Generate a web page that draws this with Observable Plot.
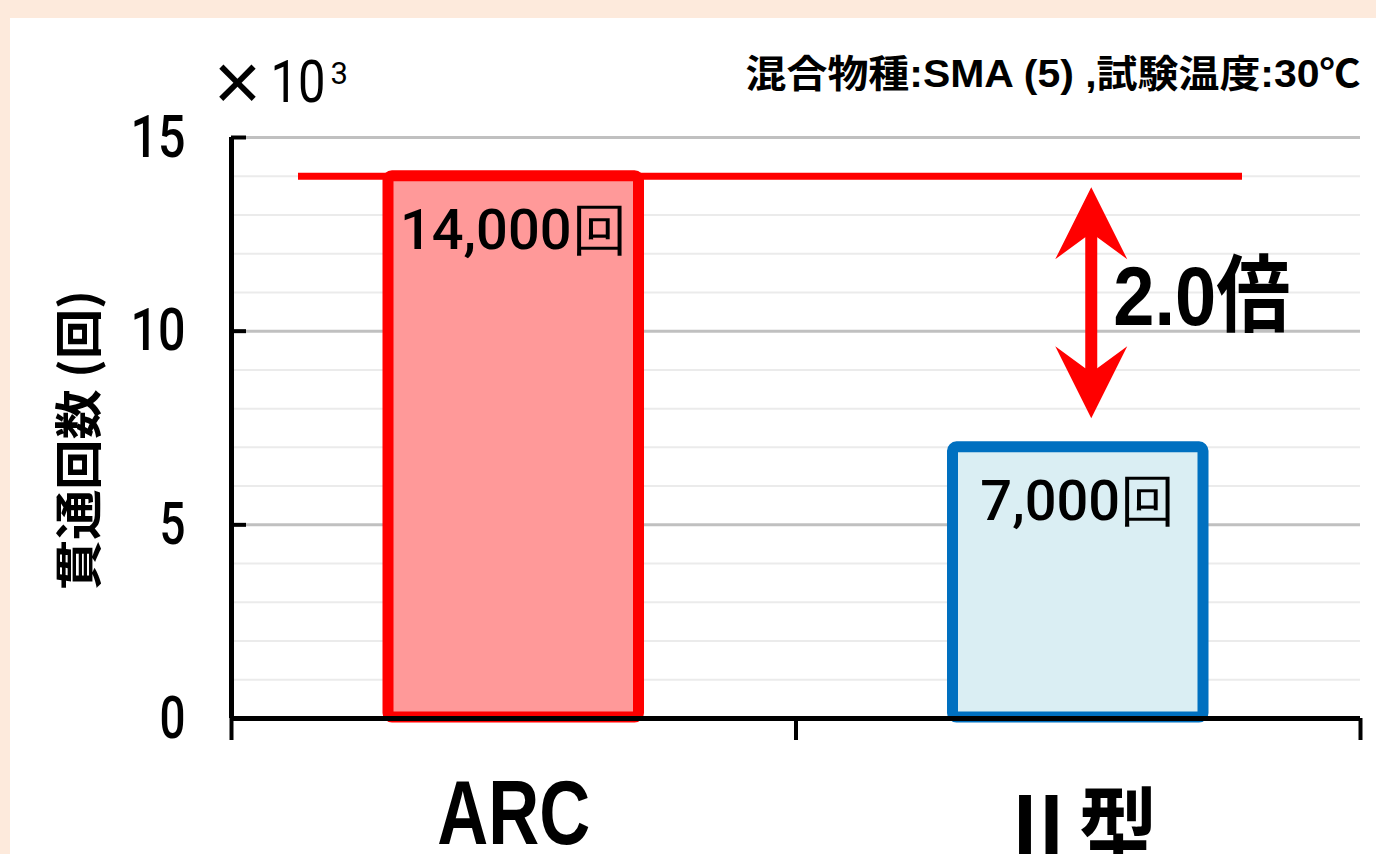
<!DOCTYPE html>
<html><head><meta charset="utf-8">
<script src="https://cdn.jsdelivr.net/npm/d3@7"></script>
<script src="https://cdn.jsdelivr.net/npm/@observablehq/plot@0.6"></script>
<style>
html,body{margin:0;padding:0;width:1376px;height:854px;overflow:hidden;background:#fdeadc;}
#panel{position:absolute;left:10px;top:18px;width:1366px;height:836px;background:#fff;}
#chart{position:absolute;left:0;top:0;}
</style></head><body><div id="panel"></div><div id="chart"></div>
<script>
// ---- data ----
const categories = ["ARC", "Ⅱ型"];
const counts = [14000, 7000];
const countLabels = ["14,000回", "7,000回"];
const yMajorTicks = [0, 5, 10, 15];
const yMinorTicks = [1, 2, 3, 4, 6, 7, 8, 9, 11, 12, 13, 14];
const titleText = "混合物種:SMA (5) ,試験温度:30℃";
const yLabelText = "貫通回数 (回)";
const unitTimes = "×";
const unitBase = "10";
const unitExp = "3";

// ---- styles ----
const barStroke = {"ARC": "#ff0000", "Ⅱ型": "#0070c0"};
const barFill = {"ARC": "#ff9999", "Ⅱ型": "#daeef3"};
const RED = "#ff0000";
const W = 1376, H = 854;
const M = {top: 137, right: 16, bottom: 136, left: 231};
const NUM_FONT = "Roboto, 'Liberation Sans', sans-serif";

const data = categories.map((c, i) => ({cat: c, i, v: counts[i] / 1000, label: countLabels[i]}));
const ratioText = (counts[0] / counts[1]).toFixed(1) + "倍";
const boundaries = categories.map((_, i) => i).concat([categories.length]);

const arrowHead = {
  draw(ctx) {
    ctx.moveTo(0, 0);
    ctx.lineTo(36, 72);
    ctx.lineTo(6, 50);
    ctx.lineTo(-6, 50);
    ctx.lineTo(-36, 72);
    ctx.closePath();
  }
};

const cx = d => d.i + 0.5;
const hiBar = data[0], loBar = data[1];

const chart = Plot.plot({
  width: W, height: H,
  marginTop: M.top, marginRight: M.right, marginBottom: M.bottom, marginLeft: M.left,
  style: {background: "transparent", overflow: "visible", fontFamily: "'Liberation Sans', 'Noto Sans CJK JP', sans-serif", color: "#000"},
  x: {domain: [0, categories.length]},
  y: {domain: [0, 15], axis: null},
  marks: [
    Plot.ruleY(yMinorTicks, {stroke: "#ebebeb", strokeWidth: 2}),
    Plot.ruleY(yMajorTicks.filter(d => d > 0), {stroke: "#c0c0c0", strokeWidth: 3}),
    Plot.rect(data, {x1: "i", x2: d => d.i + 1, y1: 0, y2: "v",
      fill: d => barFill[d.cat], stroke: d => barStroke[d.cat], strokeWidth: 11,
      insetLeft: 157, insetRight: 157, insetBottom: 1, rx: 4}),
    Plot.ruleY([hiBar.v], {stroke: RED, strokeWidth: 7, insetLeft: 67, insetRight: 118}),
    // double arrow
    Plot.ruleX([loBar], {x: cx, y1: () => hiBar.v, y2: "v", dx: 13, insetTop: 50, insetBottom: 60, stroke: RED, strokeWidth: 12}),
    Plot.dot([loBar], {x: cx, y: () => hiBar.v, dx: 13, dy: 11, r: 10, symbol: arrowHead, fill: RED, stroke: "none"}),
    Plot.dot([loBar], {x: cx, y: "v", dx: 13, dy: -29, r: 10, rotate: 180, symbol: arrowHead, fill: RED, stroke: "none"}),
    Plot.text([loBar], {x: cx, y: () => (hiBar.v + loBar.v) / 2, text: () => ratioText, textAnchor: "start", lineAnchor: "middle", dx: 35, dy: -14, fontSize: 84, fontWeight: "bold"}),
    // bar value labels
    Plot.text(data, {x: cx, y: "v", text: "label", lineAnchor: "middle", dy: 55, fontSize: 56, fontWeight: 500, fontFamily: NUM_FONT}),
    // axes
    Plot.ruleX([0], {stroke: "#000", strokeWidth: 5}),
    Plot.ruleY([0], {stroke: "#000", strokeWidth: 5}),
    Plot.ruleY(yMajorTicks.filter(d => d > 0), {stroke: "#000", strokeWidth: 4, insetRight: W - M.left - M.right - 15}),
    Plot.axisX({ticks: boundaries, tickSize: 22, tickFormat: () => "", strokeWidth: 4, label: null}),
    Plot.text(yMajorTicks, {y: d => d, frameAnchor: "left", textAnchor: "end", lineAnchor: "middle", dx: -46, text: d => String(d), fontSize: 60, fontWeight: 500, fontFamily: NUM_FONT}),
    // category labels
    Plot.text([data[0]], {x: cx, frameAnchor: "bottom", lineAnchor: "middle", dy: 97, text: "cat", fontSize: 90, fontWeight: "bold"}),
    Plot.text([data[1]], {x: cx, frameAnchor: "bottom", lineAnchor: "middle", dy: 115, text: "cat", fontSize: 90, fontWeight: "bold", fontFamily: "'Noto Sans CJK JP', sans-serif"}),
    // annotations
    Plot.text([titleText], {frameAnchor: "top-right", textAnchor: "end", lineAnchor: "middle", dy: -63, text: d => d, fontSize: 38, fontWeight: "bold"}),
    Plot.text([unitTimes], {frameAnchor: "top-left", textAnchor: "middle", lineAnchor: "middle", dx: 6, dy: -54, text: d => d, fontSize: 82}),
    Plot.text([unitBase], {frameAnchor: "top-left", textAnchor: "start", lineAnchor: "middle", dx: 39, dy: -55, text: d => d, fontSize: 60, fontFamily: NUM_FONT}),
    Plot.text([unitExp], {frameAnchor: "top-left", textAnchor: "start", lineAnchor: "middle", dx: 99, dy: -63, text: d => d, fontSize: 31, fontFamily: NUM_FONT}),
    Plot.text([yLabelText], {frameAnchor: "left", rotate: -90, textAnchor: "start", lineAnchor: "middle", dx: -151, dy: 162, text: d => d, fontSize: 48, fontWeight: "bold", fontFamily: "'Noto Sans CJK JP', sans-serif"})
  ]
});

const lengths = new Map([[titleText, 615], [yLabelText, 300], ["ARC", 153], ["Ⅱ型", 160], [ratioText, 177], ["15", 55], ["10", 55], ["5", 26], ["0", 26]]);
d3.select(chart).selectAll("text").each(function() {
  const t = this.textContent;
  if (lengths.has(t)) {
    this.setAttribute("textLength", lengths.get(t));
    this.setAttribute("lengthAdjust", "spacingAndGlyphs");
  }
});
document.getElementById("chart").appendChild(chart);
</script></body></html>
